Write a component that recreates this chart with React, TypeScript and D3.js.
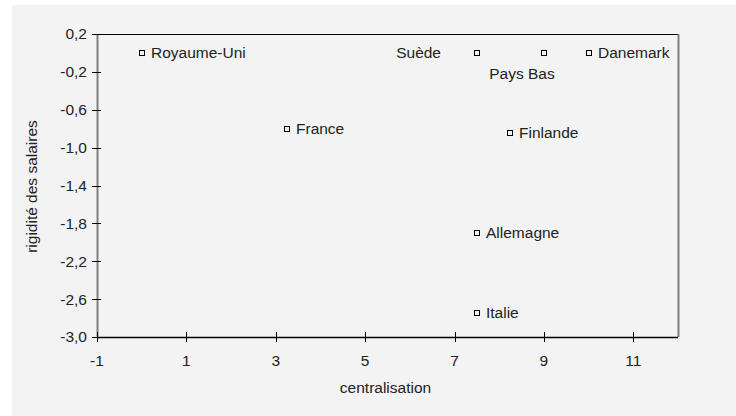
import React from "react";
import * as d3 from "d3";

const countries = ["Royaume-Uni", "Suède", "Pays Bas", "Danemark", "France", "Finlande", "Allemagne", "Italie"];
const centralisation = [0, 7.5, 9, 10, 3.25, 8.25, 7.5, 7.5];
const rigidite = [0.0, 0.0, 0.0, 0.0, -0.8, -0.85, -1.9, -2.75];
const labelPos = ["right", "left", "below", "right", "right", "right", "right", "right"];
const xTicks = [-1, 1, 3, 5, 7, 9, 11];
const yTicks = [0.2, -0.2, -0.6, -1.0, -1.4, -1.8, -2.2, -2.6, -3.0];

const W = 736, H = 416;
const L = 97, R = 678, T = 34, B = 337;
const font = "'Liberation Sans', Arial, sans-serif";
const FS = 15.5;
const fmt = (v: number) => v.toFixed(1).replace(".", ",").replace("-0,0", "0,0");

export default function App() {
  const x = d3.scaleLinear().domain([-1, 12]).range([L, R]);
  const y = d3.scaleLinear().domain([-3, 0.2]).range([B, T]);
  return (
    <svg width={W} height={H} style={{ position: "absolute", left: 0, top: 0 }}>
      <rect x={0} y={0} width={W} height={H} fill="#ffffff" />
      <rect x={12} y={5} width={W - 12} height={H - 5} fill="#f3f3f3" />
      {/* frame */}
      <line x1={L} x2={R} y1={T + 0.5} y2={T + 0.5} stroke="#000" />
      <line x1={R + 0.5} x2={R + 0.5} y1={T} y2={B} stroke="#808080" strokeWidth={2} />
      <line x1={L + 0.5} x2={L + 0.5} y1={T} y2={B} stroke="#808080" strokeWidth={2} />
      <line x1={L} x2={R} y1={B + 0.5} y2={B + 0.5} stroke="#000" strokeWidth={1.5} />
      {/* y ticks */}
      {yTicks.map((t) => (
        <g key={"y" + t}>
          <line x1={L - 5} x2={L + 4} y1={Math.round(y(t)) + 0.5} y2={Math.round(y(t)) + 0.5} stroke="#000" />
          <text x={L - 10} y={y(t)} dy="0.35em" textAnchor="end" fontFamily={font} fontSize={FS} fill="#222">
            {fmt(t)}
          </text>
        </g>
      ))}
      {/* x ticks */}
      {xTicks.map((t) => (
        <g key={"x" + t}>
          <line x1={Math.round(x(t)) + 0.5} x2={Math.round(x(t)) + 0.5} y1={B - 5} y2={B + 5} stroke="#000" />
          <text x={x(t)} y={B + 24} dy="0.35em" textAnchor="middle" fontFamily={font} fontSize={FS} fill="#222">
            {t}
          </text>
        </g>
      ))}
      <text x={(L + R) / 2 - 2} y={393} textAnchor="middle" fontFamily={font} fontSize={FS} fill="#222">
        centralisation
      </text>
      <text
        transform={`translate(37, ${(T + B) / 2 + 1}) rotate(-90)`}
        textAnchor="middle"
        fontFamily={font}
        fontSize={FS}
        fill="#222"
      >
        rigidité des salaires
      </text>
      {countries.map((c, i) => {
        const px = Math.round(x(centralisation[i]));
        const py = Math.round(y(rigidite[i]));
        const pos = labelPos[i];
        let tx = px + 9, ty = py, anchor = "start", dy = "0.35em";
        if (pos === "left") { tx = px - 36; anchor = "end"; }
        if (pos === "below") { tx = px - 22; ty = py + 21; anchor = "middle"; }
        return (
          <g key={c}>
            <rect x={px - 2.5} y={py - 2.5} width={5} height={5} fill="#f3f3f3" stroke="#000" strokeWidth={1} />
            <text x={tx} y={ty} dy={dy} textAnchor={anchor} fontFamily={font} fontSize={FS} fill="#222">
              {c}
            </text>
          </g>
        );
      })}
    </svg>
  );
}
